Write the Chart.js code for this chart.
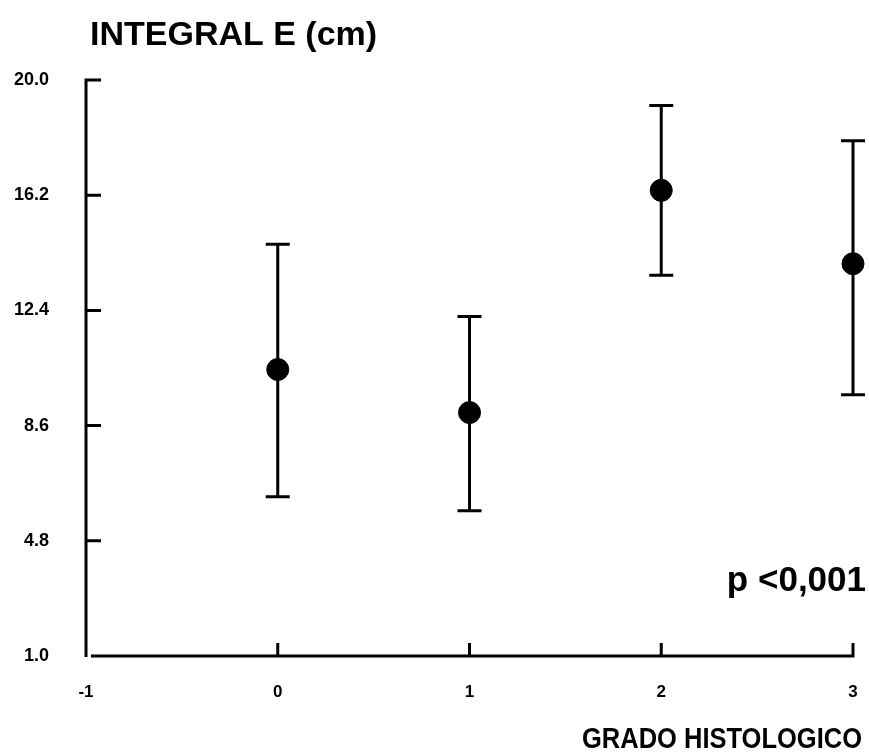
<!DOCTYPE html>
<html>
<head>
<meta charset="utf-8">
<script src="https://cdn.jsdelivr.net/npm/chart.js@4/dist/chart.umd.min.js"></script>
<style>
  html, body { margin: 0; padding: 0; background: #fff; }
  #wrap { width: 869px; height: 754px; }
</style>
</head>
<body>
<div id="wrap"><canvas id="gradeChart" width="869" height="754"></canvas></div>
<script>
// Integral E (cm) by histological grade: mean with upper / lower bar ends
const grades = [0, 1, 2, 3];
const means = [10.45, 9.03, 16.36, 13.94];
const upper = [14.58, 12.20, 19.16, 18.00];
const lower = [6.25, 5.79, 13.56, 9.62];

const yTicks = [1.0, 4.8, 8.6, 12.4, 16.2, 20.0];
const xTicks = [-1, 0, 1, 2, 3];

const yTitle = 'INTEGRAL E (cm)';
const xTitle = 'GRADO HISTOLOGICO';
const pNote = 'p <0,001';

const INK = '#000';
const SANS = '"Liberation Sans", Arial, Helvetica, sans-serif';

// axes, inward ticks, error bars and the free text
const decorPlugin = {
    id: 'decor',
    beforeDatasetsDraw(chart) {
        const { ctx, chartArea: a, scales: { x, y } } = chart;
        ctx.save();
        ctx.strokeStyle = INK;
        ctx.lineWidth = 3;
        ctx.lineCap = 'butt';

        // y axis line + ticks pointing right
        ctx.beginPath();
        ctx.moveTo(a.left, a.top - 1.5);
        ctx.lineTo(a.left, a.bottom + 1);
        y.ticks.forEach(t => {
            if (t.value === y.min) return;
            const py = y.getPixelForValue(t.value);
            ctx.moveTo(a.left, py);
            ctx.lineTo(a.left + 15, py);
        });
        ctx.stroke();

        // x axis line + ticks pointing up
        ctx.beginPath();
        ctx.moveTo(a.left + 5, a.bottom);
        ctx.lineTo(a.right + 1.5, a.bottom);
        x.ticks.forEach(t => {
            if (t.value === x.min) return;
            const px = x.getPixelForValue(t.value);
            ctx.moveTo(px, a.bottom);
            ctx.lineTo(px, a.bottom - 13);
        });
        ctx.stroke();

        // error bars
        grades.forEach((g, i) => {
            const px = x.getPixelForValue(g);
            const top = y.getPixelForValue(upper[i]);
            const bot = y.getPixelForValue(lower[i]);
            ctx.beginPath();
            ctx.moveTo(px, top);
            ctx.lineTo(px, bot);
            ctx.moveTo(px - 12, top);
            ctx.lineTo(px + 12, top);
            ctx.moveTo(px - 12, bot);
            ctx.lineTo(px + 12, bot);
            ctx.stroke();
        });
        ctx.restore();
    },
    afterDraw(chart) {
        const { ctx } = chart;
        ctx.save();
        ctx.fillStyle = INK;
        ctx.textBaseline = 'alphabetic';

        ctx.textAlign = 'left';
        ctx.font = 'bold 34px ' + SANS;
        ctx.fillText(yTitle, 90, 45, 288);

        ctx.textAlign = 'right';
        ctx.font = 'bold 29px ' + SANS;
        ctx.fillText(xTitle, 862, 748, 280);

        ctx.font = 'bold 35px ' + SANS;
        ctx.fillText(pNote, 866, 591, 143);
        ctx.restore();
    }
};

new Chart(document.getElementById('gradeChart'), {
    type: 'scatter',
    data: {
        datasets: [{
            data: grades.map((g, i) => ({ x: g, y: means[i] })),
            backgroundColor: INK,
            borderColor: INK,
            pointRadius: 11,
            pointHoverRadius: 11,
            clip: false
        }]
    },
    options: {
        responsive: false,
        animation: false,
        events: [],
        layout: { padding: { top: 80, right: 16, left: 0, bottom: 0 } },
        plugins: { legend: { display: false }, tooltip: { enabled: false } },
        scales: {
            x: {
                type: 'linear',
                min: -1,
                max: 3,
                afterBuildTicks: s => { s.ticks = xTicks.map(v => ({ value: v })); },
                afterFit: s => { s.height = 98; s.paddingRight = 0; s.paddingLeft = 0; },
                grid: { display: false, drawTicks: false },
                border: { display: false },
                ticks: {
                    padding: 26,
                    color: INK,
                    font: { family: SANS, size: 17, weight: 'bold' },
                    callback: v => String(v)
                }
            },
            y: {
                type: 'linear',
                min: 1,
                max: 20,
                afterBuildTicks: s => { s.ticks = yTicks.map(v => ({ value: v })); },
                afterFit: s => { s.width = 86; },
                grid: { display: false, drawTicks: false },
                border: { display: false },
                ticks: {
                    padding: 37,
                    color: INK,
                    font: { family: SANS, size: 18, weight: 'bold' },
                    callback: v => Number(v).toFixed(1)
                }
            }
        }
    },
    plugins: [decorPlugin]
});
</script>
</body>
</html>
